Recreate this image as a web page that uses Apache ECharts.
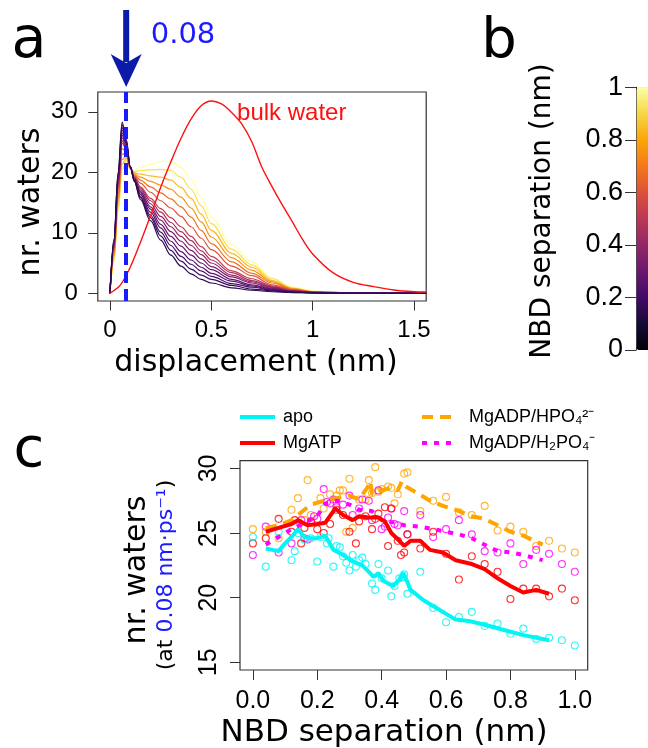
<!DOCTYPE html>
<html><head><meta charset="utf-8">
<script src="https://cdn.jsdelivr.net/npm/echarts@6/dist/echarts.min.js"></script>
<style>html,body{margin:0;padding:0;background:#fff}#c{width:648px;height:748px}</style>
</head><body><div id="c"></div>
<script>
// ---------- Panel a: water displacement distributions ----------
const dispX = [0,0.02,0.04,0.06,0.08,0.1,0.12,0.15,0.2,0.25,0.3,0.35,0.4,0.45,0.5,0.6,0.7,0.8,0.9,1.0,1.2,1.56];
const sepLevels = [1.0,0.92,0.84,0.76,0.68,0.6,0.52,0.46,0.4,0.35,0.3,0.26,0.22,0.18,0.14];
const curves = [
  [0,5,13,19.5,21.5,20.5,20.3,20.8,21.3,21.8,21.8,20.8,18.8,15.8,12.6,8.0,5.2,2.6,1.0,0.35,0.05,0],
  [0,5.4,13.7,20.4,21.9,20.6,20.1,20.3,20.4,20.5,20.3,19.2,17.2,14.5,11.5,7.3,4.7,2.4,0.91,0.32,0.05,0],
  [0,5.8,14.4,21.3,22.3,20.6,19.9,19.7,19.4,19.2,18.7,17.5,15.7,13.1,10.4,6.6,4.3,2.1,0.82,0.29,0.04,0],
  [0,6.2,15.1,22.1,22.7,20.7,19.8,19.2,18.5,17.9,17.2,15.9,14.1,11.8,9.3,5.9,3.8,1.9,0.74,0.26,0.04,0],
  [0,6.6,15.8,23.0,23.1,20.7,19.6,18.7,17.6,16.6,15.6,14.3,12.6,10.4,8.2,5.2,3.3,1.7,0.65,0.23,0.03,0],
  [0,7.0,16.5,23.9,23.5,20.8,19.4,18.2,16.7,15.3,14.1,12.7,11.0,9.1,7.2,4.5,2.9,1.4,0.56,0.2,0.03,0],
  [0,7.4,17.2,24.8,23.9,20.8,19.2,17.6,15.7,14.0,12.5,11.0,9.4,7.7,6.1,3.7,2.4,1.2,0.47,0.17,0.02,0],
  [0,7.6,17.6,25.2,24.1,20.8,19.1,17.4,15.3,13.4,11.7,10.2,8.7,7.0,5.5,3.4,2.1,1.07,0.43,0.16,0.02,0],
  [0,7.8,17.9,25.7,24.3,20.9,19.0,17.1,14.8,12.7,11.0,9.4,7.9,6.4,5.0,3.0,1.9,0.96,0.38,0.14,0.02,0],
  [0,8.0,18.3,26.1,24.5,20.9,19.0,16.8,14.3,12.1,10.2,8.6,7.1,5.7,4.4,2.7,1.7,0.8,0.34,0.13,0.01,0],
  [0,8.2,18.6,26.5,24.7,20.9,18.9,16.6,13.9,11.4,9.4,7.8,6.3,5.0,3.9,2.3,1.4,0.7,0.3,0.11,0.01,0],
  [0,8.4,19.0,27.0,24.9,20.9,18.8,16.3,13.4,10.8,8.6,6.9,5.5,4.3,3.3,2.0,1.2,0.6,0.25,0.1,0.01,0],
  [0,8.6,19.3,27.4,25.1,21.0,18.7,16.0,12.9,10.1,7.9,6.1,4.8,3.7,2.8,1.6,1.0,0.5,0.2,0.08,0.01,0],
  [0,8.8,19.7,27.9,25.3,21.0,18.6,15.8,12.5,9.5,7.1,5.3,4.0,3.0,2.3,1.3,0.7,0.4,0.16,0.07,0,0],
  [0,9,20,28.3,25.5,21,18.5,15.5,12,8.8,6.3,4.5,3.2,2.3,1.7,0.9,0.5,0.25,0.12,0.05,0,0]
];
const bulkX = [0,0.05,0.1,0.15,0.2,0.25,0.3,0.35,0.4,0.45,0.5,0.55,0.6,0.65,0.7,0.75,0.8,0.85,0.9,0.95,1.0,1.1,1.2,1.3,1.4,1.5,1.56];
const bulkY = [0,1.3,4.3,8.4,12.8,17.5,21.7,25.6,28.8,31.0,31.8,31.3,29.9,28.0,25.0,20.8,17.6,14.6,11.8,8.9,6.5,3.4,1.8,1.1,0.55,0.26,0.2];
const markDisp = 0.08;
const xTicksA = [0,0.5,1,1.5];
const yTicksA = [0,10,20,30];

// ---------- Panel c: waters at 0.08 vs NBD separation ----------
const apoS = [0,0.04,0.08,0.12,0.13,0.14,0.16,0.18,0.2,0.21,0.23,0.235,0.25,0.26,0.27,0.28,0.29,0.3,0.31,0.32,0.33,0.34,0.35,0.37,0.38,0.39,0.4,0.42,0.43,0.44,0.455,0.465,0.47,0.48,0.52,0.56,0.6,0.64,0.68,0.72,0.76,0.8,0.84,0.88,0.92,0.96,1.0];
const apoV = [24.7,22.4,25.1,22.9,23.6,25.0,24.5,24.6,22.8,24.7,24.2,24.6,22.4,24.0,23.9,23.2,22.7,22.1,23.3,22.4,22.9,23.1,22.6,21.1,20.6,22.6,21.5,22.1,20.1,20.9,21.5,21.6,21.8,20.3,22.0,19.2,18.1,18.5,18.9,17.8,18.0,17.2,17.6,16.8,16.9,16.7,16.3];
const atpS = [0,0.04,0.08,0.12,0.13,0.15,0.16,0.18,0.2,0.22,0.24,0.26,0.28,0.3,0.32,0.33,0.35,0.37,0.38,0.39,0.41,0.42,0.43,0.45,0.46,0.47,0.48,0.52,0.56,0.6,0.64,0.68,0.72,0.76,0.8,0.84,0.88,0.92,0.96,1.0];
const atpV = [24.2,24.6,26.1,25.1,26.0,24.2,25.4,25.9,25.3,25.0,25.7,26.8,26.4,25.1,24.2,25.9,26.3,25.3,26.1,26.5,27.0,24.0,26.9,24.4,23.3,23.5,24.9,23.8,25.1,23.4,21.4,23.2,22.6,22.0,19.9,20.7,20.7,20.1,20.7,19.8];
const hpoS = [0,0.04,0.08,0.12,0.14,0.16,0.17,0.18,0.21,0.22,0.24,0.26,0.27,0.28,0.29,0.3,0.31,0.33,0.35,0.36,0.37,0.38,0.39,0.4,0.42,0.43,0.44,0.45,0.47,0.48,0.52,0.56,0.6,0.64,0.68,0.72,0.76,0.8,0.84,0.88,0.92,0.96,1.0];
const hpoV = [25.3,25.1,24.6,26.8,27.7,26.0,29.1,26.4,27.7,26.9,28.0,27.9,28.3,28.3,25.1,29.2,25.4,27.6,27.6,29.1,28.1,30.1,28.2,28.4,28.6,28.5,27.3,28.0,29.6,29.7,26.7,27.5,27.8,26.6,26.4,27.1,25.2,25.5,25.1,24.0,24.4,23.8,23.5];
const h2S = [0,0.04,0.08,0.12,0.15,0.16,0.17,0.19,0.2,0.22,0.23,0.24,0.25,0.26,0.28,0.3,0.31,0.33,0.34,0.36,0.37,0.39,0.4,0.41,0.42,0.43,0.44,0.45,0.47,0.48,0.52,0.56,0.6,0.64,0.68,0.72,0.76,0.8,0.84,0.88,0.92,0.96,1.0];
const h2V = [23.3,25.5,23.5,24.2,26.0,24.6,24.5,26.3,26.1,28.4,27.4,27.3,27.6,27.0,27.2,27.9,26.4,26.9,27.6,27.5,26.0,28.3,25.3,25.5,26.2,26.9,25.7,25.6,26.7,24.9,26.4,24.7,25.3,26.0,24.9,23.6,23.5,24.2,22.6,23.7,23.4,22.6,22.0];
const apoLineS = [0.04,0.08,0.1,0.12,0.14,0.16,0.18,0.2,0.225,0.25,0.28,0.31,0.34,0.36,0.375,0.39,0.405,0.435,0.455,0.468,0.49,0.53,0.57,0.63,0.67,0.72,0.78,0.84,0.92];
const apoLineV = [23.8,23.6,24.2,24.7,25.3,24.7,24.6,24.6,24.8,23.7,23.3,22.8,22.5,22.0,21.6,21.9,21.3,20.9,21.4,21.9,20.6,19.8,19.2,18.3,18.2,17.9,17.5,17.1,16.7];
const atpLineS = [0.04,0.08,0.12,0.14,0.17,0.2,0.225,0.256,0.28,0.31,0.33,0.36,0.39,0.41,0.43,0.455,0.47,0.49,0.52,0.55,0.59,0.63,0.68,0.72,0.76,0.8,0.84,0.88,0.92];
const atpLineV = [25.1,25.4,25.7,26.0,25.6,25.7,25.8,26.9,26.4,26.0,26.3,26.2,26.2,25.9,25.0,24.4,24.0,24.4,24.4,23.7,23.5,22.9,22.6,22.2,21.5,20.9,20.4,20.6,20.3];
const hpoLineS = [0.04,0.08,0.12,0.16,0.18,0.22,0.26,0.3,0.33,0.355,0.365,0.37,0.4,0.43,0.45,0.463,0.475,0.51,0.55,0.59,0.63,0.68,0.72,0.76,0.8,0.84,0.9];
const hpoLineV = [25.4,25.6,26.0,26.8,27.2,27.5,27.7,27.9,27.6,28.5,29.0,28.0,28.3,28.5,28.3,29.0,28.6,28.1,27.5,27.1,26.8,26.3,26.1,25.6,25.1,24.8,24.1];
const h2LineS = [0.04,0.08,0.12,0.17,0.2,0.225,0.26,0.3,0.33,0.37,0.4,0.44,0.47,0.52,0.56,0.6,0.64,0.68,0.72,0.76,0.8,0.84,0.9];
const h2LineV = [24.1,24.7,25.3,25.9,26.3,27.3,27.5,27.2,26.8,26.7,26.0,25.8,25.6,25.5,25.3,25.1,24.9,24.6,24.1,23.6,23.5,23.3,22.9];
const xTicksC = [0,0.2,0.4,0.6,0.8,1.0];
const yTicksC = [15,20,25,30];
const groupNames = ['apo','MgATP','MgADP/HPO\u2084\u00b2\u207b','MgADP/H\u2082PO\u2084\u207b'];

// ---------- styles ----------
const infernoStops = ['#000004','#160b39','#420a68','#6a176e','#932667','#bc3754','#dd513a','#f37819','#fca50a','#f6d746','#fcffa4'];
function hex2rgb(h){return [parseInt(h.slice(1,3),16),parseInt(h.slice(3,5),16),parseInt(h.slice(5,7),16)];}
function inferno(t){
  const n = infernoStops.length-1; const p = Math.max(0,Math.min(1,t))*n;
  const i = Math.min(Math.floor(p), n-1); const f = p-i;
  const a = hex2rgb(infernoStops[i]), b = hex2rgb(infernoStops[i+1]);
  return 'rgb('+a.map((v,k)=>Math.round(v+(b[k]-v)*f)).join(',')+')';
}
const FONT_T = 'Liberation Sans';
const FONT_D = 'DejaVu Sans';
const CYAN='#00f5f5', RED='#ff0000', ORANGE='#ffa500', MAG='#ff00ff';

const chart = echarts.init(document.getElementById('c'), null, {renderer:'canvas'});

function baseAxis(o){
  return Object.assign({type:'value', axisLine:{show:false, onZero:false}, splitLine:{show:false},
    axisTick:{show:true, inside:false, lineStyle:{color:'#333', width:1}},
    axisLabel:{color:'#000'}}, o);
}

const series = [];
curves.forEach((vals,k)=>{
  series.push({type:'line', xAxisIndex:0, yAxisIndex:0, symbol:'none', smooth:0.35, smoothMonotone:'x',
    silent:true, data: dispX.map((x,i)=>[x, vals[i]]),
    lineStyle:{color: inferno(sepLevels[k]), width:1.2}, z:2});
});
series.push({type:'line', xAxisIndex:0, yAxisIndex:0, symbol:'none', smooth:0.3, silent:true,
  data: bulkX.map((x,i)=>[x,bulkY[i]]), lineStyle:{color:'#ff1010', width:1.4}, z:3,
  markLine:{silent:true, symbol:'none', label:{show:false}, animation:false,
    lineStyle:{color:'#1a1aff', width:4, type:[12,6]}, data:[{xAxis: markDisp}]}});

function scat(S,V,color){
  return {type:'scatter', xAxisIndex:1, yAxisIndex:1, symbol:'circle', symbolSize:7, silent:true,
    data:S.map((s,i)=>[s,V[i]]), itemStyle:{color:'rgba(0,0,0,0)', borderColor:color, borderWidth:1.1}, z:2};
}
series.push(scat(hpoS,hpoV,ORANGE), scat(h2S,h2V,MAG), scat(atpS,atpV,RED), scat(apoS,apoV,CYAN));
function lin(name,S,V,color,type){
  return {name, type:'line', xAxisIndex:1, yAxisIndex:1, symbol:'none', silent:true,
    data:S.map((s,i)=>[s,V[i]]), lineStyle:{color, width:4, type, cap:'butt'}, itemStyle:{color}, z:3};
}
series.push(lin(groupNames[2],hpoLineS,hpoLineV,ORANGE,[11,7]));
series.push(lin(groupNames[3],h2LineS,h2LineV,MAG,[5,7]));
series.push(lin(groupNames[1],atpLineS,atpLineV,RED,'solid'));
series.push(lin(groupNames[0],apoLineS,apoLineV,CYAN,'solid'));
const dummyIndex = series.length;
series.push({type:'scatter', xAxisIndex:2, yAxisIndex:2, data:[], silent:true});

const legendBase = {orient:'vertical', top:408, padding:0, itemWidth:35, itemHeight:14, itemGap:8,
  selectedMode:false, itemStyle:{opacity:0}, lineStyle:{width:4},
  textStyle:{fontSize:18, fontFamily:FONT_T, color:'#000'}};

chart.setOption({
  animation:false,
  backgroundColor:'#fff',
  grid:[
    {left:97.8, top:92, width:328.4, height:209, show:true, borderColor:'#333', borderWidth:1.2, backgroundColor:'rgba(0,0,0,0)', outerBoundsMode:'none', containLabel:false},
    {left:240, top:460.7, width:347.7, height:209.3, show:true, borderColor:'#333', borderWidth:1.2, backgroundColor:'rgba(0,0,0,0)', outerBoundsMode:'none', containLabel:false},
    {left:636, top:87.3, width:20, height:262.7, show:false, outerBoundsMode:'none', containLabel:false}
  ],
  xAxis:[
    baseAxis({gridIndex:0, min:-0.06, max:1.56,
      axisTick:{show:true, length:9.5, customValues:xTicksA, lineStyle:{color:'#333'}},
      axisLabel:{customValues:xTicksA, fontSize:24, fontFamily:FONT_T, color:'#000', margin:17}}),
    baseAxis({gridIndex:1, min:-0.04, max:1.04,
      axisTick:{show:true, length:10, customValues:xTicksC, lineStyle:{color:'#333'}},
      axisLabel:{customValues:xTicksC, fontSize:25, fontFamily:FONT_T, color:'#000', margin:19, formatter:v=>v.toFixed(1)}}),
    {gridIndex:2, type:'value', min:0, max:1, show:false}
  ],
  yAxis:[
    baseAxis({gridIndex:0, min:-1.28, max:33.28,
      axisTick:{show:true, length:9.5, customValues:yTicksA, lineStyle:{color:'#333'}},
      axisLabel:{customValues:yTicksA, fontSize:24, fontFamily:FONT_T, color:'#000', margin:20}}),
    baseAxis({gridIndex:1, min:14.4, max:30.6,
      axisTick:{show:true, length:10, customValues:yTicksC, lineStyle:{color:'#333'}},
      axisLabel:{customValues:yTicksC, fontSize:25, fontFamily:FONT_T, color:'#000', margin:18, rotate:90}}),
    baseAxis({gridIndex:2, min:0, max:1, interval:0.2,
      axisLine:{show:true, onZero:false, lineStyle:{color:'#222', width:1}},
      axisTick:{show:true, length:11, lineStyle:{color:'#333'}},
      axisLabel:{fontSize:27, fontFamily:FONT_T, color:'#000', margin:13}})
  ],
  visualMap:[{type:'continuous', min:0, max:1, seriesIndex:dummyIndex, dimension:1, orient:'vertical',
    left:636.5, top:87.3, itemWidth:20, itemHeight:262.7, padding:0, calculable:false, hoverLink:false,
    text:null, inRange:{color:infernoStops}, textStyle:{color:'rgba(0,0,0,0)'}}],
  legend:[
    Object.assign({}, legendBase, {left:238, data:[groupNames[0],groupNames[1]], textStyle:Object.assign({}, legendBase.textStyle, {padding:[0,0,0,3]})}),
    Object.assign({}, legendBase, {left:420, data:[groupNames[2],groupNames[3]], textStyle:Object.assign({}, legendBase.textStyle, {padding:[0,0,0,7]})})
  ],
  series
});

// ---------- annotations and titles ----------
const px08 = chart.convertToPixel({xAxisIndex:0}, markDisp);
const bw = chart.convertToPixel({gridIndex:0}, [0.627, 29.8]);
function txt(text, x, y, size, family, color, rot, extra){
  return Object.assign({type:'text', x, y, rotation: rot||0, silent:true, z:10,
    style:{text, fontSize:size, fontFamily:family, fill:color||'#000',
      align:'center', verticalAlign:'middle', textAlign:'center', textVerticalAlign:'middle'}}, extra||{});
}
const AR = '#0b1ba8';
chart.setOption({graphic:{elements:[
  txt('a', 29, 42, 57, FONT_D, '#000'),
  txt('b', 499, 42, 56, FONT_D, '#000'),
  txt('c', 29, 451, 56, FONT_D, '#000'),
  txt('0.08', 183, 35, 29, FONT_D, '#1a1aff'),
  {type:'line', silent:true, z:10, shape:{x1:px08, y1:10, x2:px08, y2:62}, style:{stroke:AR, lineWidth:6}},
  {type:'polygon', silent:true, z:10, shape:{points:[[px08-15.5,54],[px08,63],[px08+15.5,54],[px08,87]]}, style:{fill:AR}},
  {type:'text', x:bw[0], y:bw[1], silent:true, z:10, style:{text:'bulk water', fontSize:24, fontFamily:FONT_T, fill:'#ff1010', align:'left', verticalAlign:'middle', textAlign:'left', textVerticalAlign:'middle'}},
  txt('nr. waters', 31, 202, 30, FONT_D, '#000', Math.PI/2),
  txt('displacement (nm)', 256, 363, 30, FONT_D, '#000'),
  txt('NBD separation (nm)', 543, 211, 28, FONT_D, '#000', Math.PI/2),
  txt('nr. waters', 137, 570, 30, FONT_D, '#000', Math.PI/2),
  {type:'text', x:166, y:575, rotation:Math.PI/2, silent:true, z:10,
    style:{text:'{k|(at }{b|0.08 nm\u00b7ps\u207b\u00b9}{k|)}', align:'center', verticalAlign:'middle', textAlign:'center', textVerticalAlign:'middle',
      rich:{k:{fontSize:22, fontFamily:FONT_D, fill:'#000'}, b:{fontSize:22, fontFamily:FONT_D, fill:'#1a1aff'}}}},
  txt('NBD separation (nm)', 384, 733, 31, FONT_D, '#000')
]}});
</script>
</body></html>
